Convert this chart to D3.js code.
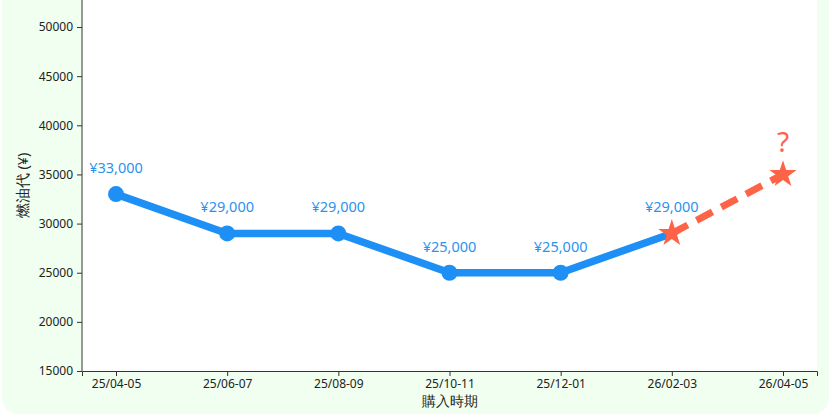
<!DOCTYPE html>
<html><head><meta charset="utf-8">
<script src="https://cdn.jsdelivr.net/npm/d3@7"></script>
<style>body{margin:0;background:#fff;}svg{display:block;}</style>
</head><body>
<svg id="chart" width="831" height="416"></svg>
<script>
const categories = ["25/04-05","25/06-07","25/08-09","25/10-11","25/12-01","26/02-03","26/04-05"];
const actualValues = [33000, 29000, 29000, 25000, 25000, 29000];
const forecastCats = ["26/02-03","26/04-05"];
const forecastValues = [29000, 35000];
const yTicks = [15000,20000,25000,30000,35000,40000,45000,50000];
const yDomain = [15000, 52750];

const svg = d3.select("#chart");
const W = 831, H = 416;
const m = {left:82, right:14, top:0, bottom:45};
const blue = "#1e8ff5", tomato = "#ff6347";
const font = "'Noto Sans', sans-serif";

svg.append("rect").attr("x",2).attr("y",-20).attr("width",827).attr("height",434)
  .attr("rx",16).attr("fill","#f0fff0");

const x = d3.scalePoint().domain(categories).range([m.left, W-m.right]).padding(0.306);
const y = d3.scaleLinear().domain(yDomain).range([H-m.bottom, m.top]);

svg.append("rect").attr("x",m.left).attr("y",m.top).attr("width",W-m.right-m.left)
  .attr("height",H-m.bottom-m.top).attr("fill","#fff");

const xa = svg.append("g").attr("transform",`translate(0,${H-m.bottom})`)
  .call(d3.axisBottom(x).tickSizeOuter(0).tickSize(5).tickPadding(3));
const ya = svg.append("g").attr("transform",`translate(${m.left},0)`)
  .call(d3.axisLeft(y).tickValues(yTicks).tickFormat(d3.format("d")).tickSizeOuter(0).tickSize(5).tickPadding(4));
[xa,ya].forEach(a=>{
  a.selectAll("text").attr("font-family",font).attr("font-size",12).attr("fill","#222");
  a.selectAll("line,path").attr("stroke","#333");
});
ya.select(".domain").attr("d",`M0,${H-m.bottom}V0`);

svg.append("text").attr("x",(m.left+W-m.right)/2).attr("y",406).attr("text-anchor","middle")
  .attr("font-family",font).attr("font-size",14).attr("fill","#222").text("購入時期");
svg.append("text").attr("transform",`translate(28,${(H-m.bottom)/2}) rotate(-90)`)
  .attr("text-anchor","middle").attr("font-family",font).attr("font-size",14.5).attr("fill","#222").text("燃油代 (¥)");

const actual = actualValues.map((v,i)=>({c:categories[i], v}));
const line = d3.line().x(d=>x(d.c)).y(d=>y(d.v));
svg.append("path").datum(actual).attr("d",line).attr("fill","none")
  .attr("stroke",blue).attr("stroke-width",7.5).attr("stroke-linejoin","round");
svg.selectAll("circle.pt").data(actual.slice(0,-1)).join("circle").attr("class","pt")
  .attr("cx",d=>x(d.c)).attr("cy",d=>y(d.v)).attr("r",8).attr("fill",blue);

const forecast = forecastValues.map((v,i)=>({c:forecastCats[i], v}));
svg.append("path").datum(forecast).attr("d",line).attr("fill","none")
  .attr("stroke",tomato).attr("stroke-width",7).attr("stroke-dasharray","18,10");
const star = d3.symbol().type(d3.symbolStar).size(230);
svg.selectAll("path.star").data(forecast).join("path").attr("class","star")
  .attr("transform",d=>`translate(${x(d.c)},${y(d.v)})`).attr("d",star).attr("fill",tomato);

svg.selectAll("text.lbl").data(actual).join("text").attr("class","lbl")
  .attr("x",d=>x(d.c)).attr("y",d=>y(d.v)-21).attr("text-anchor","middle")
  .attr("font-family",font).attr("font-size",14.5).attr("fill","#2a93ee")
  .text(d=>"¥"+d3.format(",")(d.v));
svg.append("text").attr("x",x(forecast[1].c)).attr("y",y(forecast[1].v)-22).attr("text-anchor","middle")
  .attr("font-family",font).attr("font-size",28).attr("fill",tomato).text("?");
</script>
</body></html>
